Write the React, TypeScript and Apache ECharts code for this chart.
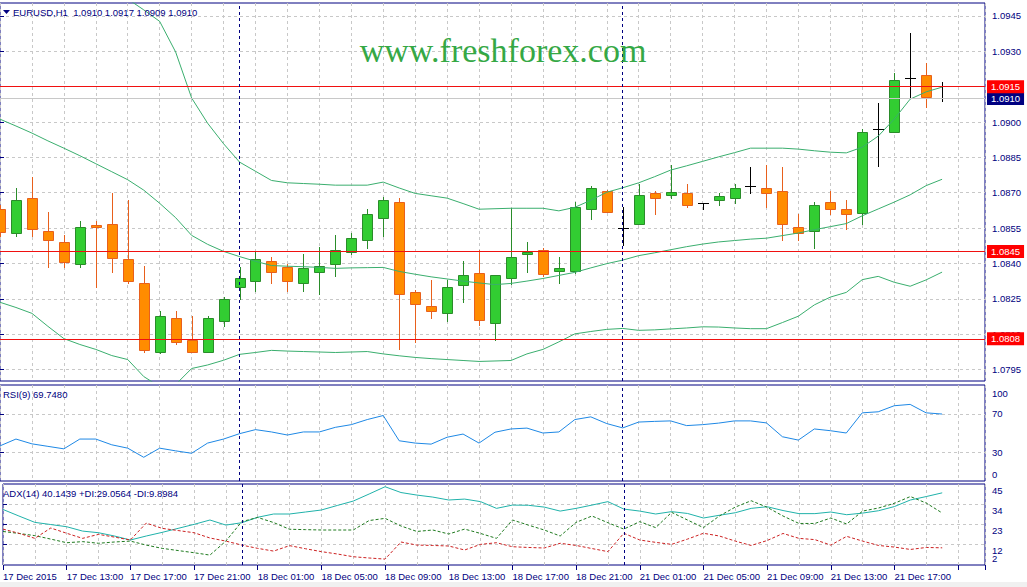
import React, { useEffect, useRef } from 'react';
import * as echarts from 'echarts';

// ---------------- data ----------------
const symbol = 'EURUSD';
const period = 'H1';
const firstTimeLabel = '17 Dec 2015';

const barTimes = [
  '17 Dec 09:00', '17 Dec 10:00', '17 Dec 11:00', '17 Dec 12:00', '17 Dec 13:00', '17 Dec 14:00', '17 Dec 15:00', '17 Dec 16:00',
  '17 Dec 17:00', '17 Dec 18:00', '17 Dec 19:00', '17 Dec 20:00', '17 Dec 21:00', '17 Dec 22:00', '17 Dec 23:00',
  '18 Dec 00:00', '18 Dec 01:00', '18 Dec 02:00', '18 Dec 03:00', '18 Dec 04:00', '18 Dec 05:00', '18 Dec 06:00', '18 Dec 07:00',
  '18 Dec 08:00', '18 Dec 09:00', '18 Dec 10:00', '18 Dec 11:00', '18 Dec 12:00', '18 Dec 13:00', '18 Dec 14:00', '18 Dec 15:00',
  '18 Dec 16:00', '18 Dec 17:00', '18 Dec 18:00', '18 Dec 19:00', '18 Dec 20:00', '18 Dec 21:00', '18 Dec 22:00', '18 Dec 23:00',
  '21 Dec 00:00', '21 Dec 01:00', '21 Dec 02:00', '21 Dec 03:00', '21 Dec 04:00', '21 Dec 05:00', '21 Dec 06:00', '21 Dec 07:00',
  '21 Dec 08:00', '21 Dec 09:00', '21 Dec 10:00', '21 Dec 11:00', '21 Dec 12:00', '21 Dec 13:00', '21 Dec 14:00', '21 Dec 15:00',
  '21 Dec 16:00', '21 Dec 17:00', '21 Dec 18:00', '21 Dec 19:00', '21 Dec 20:00',
];
const daySeparators = ['18 Dec 00:00', '21 Dec 00:00'];

const opens = [
  1.0863, 1.08528, 1.08677, 1.08536, 1.0849, 1.08396, 1.08565, 1.08566, 1.08417, 1.08315,
  1.08022, 1.08167, 1.08077, 1.08026, 1.08154, 1.08298, 1.08324, 1.08409, 1.08383, 1.08315,
  1.08362, 1.08396, 1.08447, 1.08498, 1.08592, 1.0866, 1.08277, 1.08218, 1.08188, 1.08307,
  1.08358, 1.08145, 1.08337, 1.08439, 1.08456, 1.08366, 1.08366, 1.0863, 1.08706, 1.08549,
  1.08566, 1.08698, 1.08689, 1.08698, 1.08655, 1.08668, 1.08677, 1.08728, 1.08719, 1.08706,
  1.08553, 1.08536, 1.0866, 1.0863, 1.08613, 1.0897, 1.08957, 1.09187, 1.09199, 1.091,
];
const highs = [
  1.08647, 1.08719, 1.08766, 1.08617, 1.08519, 1.08579, 1.08579, 1.08698, 1.08668, 1.08388,
  1.08196, 1.08196, 1.08175, 1.08175, 1.08256, 1.08383, 1.08447, 1.08426, 1.08396, 1.08439,
  1.08468, 1.08519, 1.08528, 1.0863, 1.08681, 1.08677, 1.08286, 1.08328, 1.08328, 1.08409,
  1.08456, 1.08349, 1.08634, 1.0849, 1.08464, 1.08426, 1.0866, 1.08728, 1.08711, 1.08638,
  1.08736, 1.08706, 1.08817, 1.08736, 1.08655, 1.08698, 1.08736, 1.08808, 1.08817, 1.08808,
  1.08609, 1.0866, 1.08706, 1.08668, 1.0897, 1.0908, 1.09208, 1.09378, 1.0925, 1.0917,
];
const lows = [
  1.08515, 1.08515, 1.08515, 1.08383, 1.08383, 1.08383, 1.08298, 1.08362, 1.08315, 1.08022,
  1.08018, 1.08056, 1.08022, 1.08022, 1.08133, 1.08247, 1.08281, 1.08315, 1.08281, 1.08281,
  1.08269, 1.08345, 1.08439, 1.08464, 1.08515, 1.08035, 1.08065, 1.08167, 1.08154, 1.08235,
  1.08137, 1.08077, 1.08311, 1.08362, 1.08345, 1.08315, 1.08358, 1.08587, 1.08617, 1.08477,
  1.08566, 1.08609, 1.08677, 1.08638, 1.0863, 1.08647, 1.08655, 1.08698, 1.08638, 1.08498,
  1.08498, 1.08464, 1.08609, 1.08545, 1.08566, 1.08813, 1.08957, 1.09106, 1.09063, 1.0909,
];
const closes = [
  1.08532, 1.08668, 1.08545, 1.08498, 1.08405, 1.08553, 1.08555, 1.08422, 1.08324, 1.08031,
  1.08175, 1.08065, 1.08022, 1.08167, 1.08247, 1.08337, 1.08417, 1.08362, 1.08324, 1.08379,
  1.08388, 1.08456, 1.08507, 1.08609, 1.08668, 1.08269, 1.08226, 1.08196, 1.08298, 1.08349,
  1.08158, 1.08349, 1.08426, 1.08447, 1.08354, 1.08379, 1.08638, 1.08719, 1.08617, 1.08549,
  1.08689, 1.08677, 1.08702, 1.08647, 1.08655, 1.08685, 1.08719, 1.08728, 1.08698, 1.08566,
  1.08528, 1.08647, 1.0863, 1.08609, 1.08957, 1.0897, 1.09178, 1.09187, 1.09106, 1.091,
];

const bbUpper = [
  1.0979, 1.09752, 1.09718, 1.09709, 1.09697, 1.09658, 1.09612, 1.09569, 1.09522, 1.09476,
  1.09427, 1.09297, 1.09102, 1.08995, 1.08908, 1.0883, 1.08791, 1.08752, 1.08742, 1.08739,
  1.08736, 1.08732, 1.08732, 1.08732, 1.08745, 1.0872, 1.08697, 1.08687, 1.08677, 1.08654,
  1.0863, 1.08632, 1.08634, 1.08634, 1.08634, 1.08623, 1.08638, 1.08668, 1.08702, 1.08721,
  1.08742, 1.08768, 1.08796, 1.08814, 1.08833, 1.08852, 1.0887, 1.08889, 1.08889, 1.08889,
  1.08885, 1.08878, 1.08872, 1.08869, 1.08893, 1.0894, 1.09012, 1.09097, 1.09128, 1.09148,
];
const bbMiddle = [
  1.09012, 1.08983, 1.08953, 1.0892, 1.08889, 1.08857, 1.08823, 1.08789, 1.08755, 1.08711,
  1.08655, 1.08594, 1.08519, 1.08481, 1.08451, 1.08429, 1.08409, 1.08391, 1.08388, 1.08386,
  1.08383, 1.08379, 1.08381, 1.08382, 1.08383, 1.08366, 1.08354, 1.08343, 1.08334, 1.08325,
  1.08317, 1.0831, 1.08315, 1.08325, 1.08336, 1.08349, 1.08362, 1.08381, 1.08399, 1.08414,
  1.08433, 1.08445, 1.08458, 1.08471, 1.08482, 1.08491, 1.08497, 1.08503, 1.08507, 1.08518,
  1.08529, 1.08543, 1.08556, 1.08569, 1.08602, 1.08631, 1.0866, 1.08691, 1.0873, 1.08757,
];
const bbLower = [
  1.08235, 1.08213, 1.08188, 1.08133, 1.08081, 1.08056, 1.08035, 1.08009, 1.07992, 1.0792,
  1.07877, 1.07886, 1.07954, 1.07969, 1.07989, 1.08014, 1.08022, 1.08031, 1.08028, 1.08026,
  1.08024, 1.08022, 1.08024, 1.08026, 1.08016, 1.08008, 1.08001, 1.07996, 1.07992, 1.07988,
  1.07984, 1.07986, 1.07988, 1.08016, 1.08035, 1.08067, 1.08101, 1.08111, 1.0812, 1.08124,
  1.08116, 1.08118, 1.08122, 1.08126, 1.08131, 1.0813, 1.08126, 1.08123, 1.08123, 1.08149,
  1.08176, 1.08224, 1.08257, 1.08277, 1.08331, 1.08345, 1.0832, 1.08303, 1.0833, 1.08363,
];

const rsi = [
  36.6, 43.7, 38.7, 36.1, 33.5, 43.7, 43.7, 37.7, 34.2, 24.7,
  34.2, 31.4, 28.9, 39.5, 43.7, 49.3, 53.5, 51.1, 47.9, 51.1,
  51.1, 55.9, 58.7, 64.0, 68.2, 41.9, 39.5, 38.4, 45.6, 48.9,
  39.5, 50.8, 54.2, 55.1, 50.0, 51.1, 64.0, 66.8, 59.8, 55.3,
  61.4, 62.1, 62.6, 57.7, 58.7, 60.3, 62.6, 62.6, 60.5, 46.1,
  42.6, 54.2, 52.4, 50.0, 71.0, 72.1, 78.4, 79.8, 71.0, 69.748,
];
const adx = [
  31.0, 27.4, 23.9, 22.7, 21.5, 19.1, 18.2, 16.4, 14.2, 16.4,
  18.4, 20.6, 22.8, 25.2, 22.4, 23.7, 26.7, 28.5, 28.5, 29.6,
  30.7, 33.2, 35.6, 39.5, 43.5, 40.3, 38.9, 37.8, 36.2, 36.7,
  35.3, 31.6, 33.4, 33.3, 32.3, 30.1, 31.6, 33.4, 35.3, 31.2,
  30.1, 28.5, 29.8, 28.8, 26.3, 27.8, 29.2, 31.6, 32.5, 30.4,
  28.7, 28.7, 29.6, 28.1, 29.0, 30.3, 32.6, 36.2, 38.1, 40.1439,
];
const plusDI = [
  18.9, 17.8, 16.6, 14.7, 12.7, 13.3, 12.4, 13.1, 13.6, 11.4,
  9.6, 8.4, 7.2, 5.9, 13.6, 24.3, 26.6, 23.8, 20.1, 19.9,
  19.7, 19.7, 19.7, 24.9, 26.1, 21.9, 18.9, 19.7, 17.5, 20.2,
  17.8, 15.1, 25.2, 22.4, 19.7, 16.4, 23.9, 27.4, 23.7, 20.2,
  24.3, 21.0, 29.4, 25.2, 21.0, 27.4, 32.3, 35.8, 32.2, 27.4,
  23.3, 23.3, 26.3, 23.0, 30.1, 31.8, 34.4, 38.1, 34.5, 29.0564,
];
const minusDI = [
  20.2, 17.9, 15.1, 20.8, 17.9, 15.1, 17.3, 15.8, 14.2, 23.5,
  20.6, 19.4, 18.2, 15.3, 13.6, 11.4, 9.6, 8.1, 11.1, 9.4,
  7.8, 6.5, 5.0, 4.3, 3.7, 13.1, 11.4, 11.2, 10.9, 8.7,
  11.8, 12.7, 10.5, 10.1, 9.8, 12.4, 11.2, 9.5, 7.8, 17.9,
  14.2, 12.9, 11.8, 14.7, 17.9, 16.4, 13.6, 11.2, 13.9, 17.8,
  15.1, 14.4, 11.4, 16.2, 13.6, 11.2, 10.3, 9.0, 10.1, 9.8984,
];

const priceTicks = [1.0795, 1.081, 1.0825, 1.084, 1.0855, 1.087, 1.0885, 1.09, 1.0915, 1.093, 1.0945];
const rsiTicks = [0, 30, 70, 100];
const rsiGridTicks = [30, 70];
const adxTicks = [12, 23, 34, 45];
const adxMinTick = [2];
const adxGridTicks = [12, 23, 34];
const levelLines = [1.0915, 1.0845, 1.0808];

// ---------------- style ----------------
const NAVY = '#000080';
const GRID = '#C8C8C8';
const FONT = '"Liberation Sans", Arial, sans-serif';
const FS = 9.5;
const BULL_FILL = '#32CD32';
const BULL_EDGE = '#2A8C2A';
const BEAR_FILL = '#FF8C00';
const BEAR_EDGE = '#E8601C';
const BB_COLOR = '#3AAE6E';
const LEVEL_RED = '#F01010';
const X_MAX = 61.6875;

const fmt4 = (v: number) => v.toFixed(4);

export default function App() {
  const ref = useRef<HTMLDivElement>(null);

  useEffect(() => {
    if (!ref.current) return;
    const chart = echarts.init(ref.current, undefined, { renderer: 'svg' });
    const n = barTimes.length;
    const last = n - 1;
    const sepIdx = daySeparators.map((t) => barTimes.indexOf(t));
    const candleData = barTimes.map((_, k) => [k, opens[k], highs[k], lows[k], closes[k]]);
    const pairs = (arr: number[]) => arr.map((v, k) => [k, v]);

    const sepLines = sepIdx.map((k) => ({
      xAxis: k,
      lineStyle: { color: NAVY, type: [3, 3], width: 1 },
      label: { show: false },
    }));

    const boxLabel = (text: string, bg: string) => ({
      show: true,
      position: 'end',
      distance: 2,
      formatter: text,
      backgroundColor: bg,
      color: '#FFFFFF',
      padding: [2, 4, 1, 4],
      fontSize: FS,
      fontFamily: FONT,
    });

    const xAxisBase = (gridIndex: number, labels: boolean) => ({
      type: 'value',
      gridIndex,
      min: 0,
      max: X_MAX,
      interval: 4,
      axisLine: { show: false },
      axisTick: labels ? { show: true, length: 5, lineStyle: { color: NAVY } } : { show: false },
      axisLabel: labels
        ? {
            show: true,
            align: 'left',
            margin: 6,
            color: NAVY,
            fontSize: FS,
            fontFamily: FONT,
            formatter: (v: number) => {
              const k = Math.round(v);
              if (Math.abs(v - k) > 1e-6 || k % 4 !== 0 || k >= n) return '';
              return k === 0 ? firstTimeLabel : barTimes[k];
            },
          }
        : { show: false },
      splitLine: { show: true, lineStyle: { color: GRID, type: [3, 3], width: 1 } },
      minorTick: { show: false, splitNumber: 2 },
      minorSplitLine: { show: true, lineStyle: { color: GRID, type: [3, 3], width: 1 } },
    });

    const labelFont = { color: NAVY, fontSize: FS, fontFamily: FONT };

    const candleItem = (params: any, api: any) => {
      const k = api.value(0);
      const o = api.value(1);
      const h = api.value(2);
      const l = api.value(3);
      const c = api.value(4);
      const po = api.coord([k, o]);
      const yc = api.coord([k, c])[1];
      const yh = api.coord([k, h])[1];
      const yl = api.coord([k, l])[1];
      const x = Math.round(po[0]);
      const yo = po[1];
      const children: any[] = [];
      if (o === c) {
        const y = Math.round(yo) + 0.5;
        children.push({ type: 'line', shape: { x1: x + 0.5, y1: Math.round(yh), x2: x + 0.5, y2: Math.round(yl) + 1 }, style: { stroke: '#000000', lineWidth: 1 } });
        children.push({ type: 'line', shape: { x1: x - 5, y1: y, x2: x + 6, y2: y }, style: { stroke: '#000000', lineWidth: 1 } });
      } else {
        const bull = c > o;
        const stroke = bull ? BULL_EDGE : BEAR_EDGE;
        const fill = bull ? BULL_FILL : BEAR_FILL;
        const top = Math.round(Math.min(yo, yc));
        const bot = Math.round(Math.max(yo, yc));
        children.push({ type: 'line', shape: { x1: x + 0.5, y1: Math.round(yh), x2: x + 0.5, y2: Math.round(yl) + 1 }, style: { stroke, lineWidth: 1 } });
        children.push({ type: 'rect', shape: { x: x - 4.5, y: top + 0.5, width: 10, height: Math.max(bot - top, 1) }, style: { fill, stroke, lineWidth: 1 } });
      }
      return { type: 'group', children };
    };

    const mainHeader = `${symbol},${period}  ${fmt4(opens[last])} ${fmt4(highs[last])} ${fmt4(lows[last])} ${fmt4(closes[last])}`;
    const rsiHeader = `RSI(9) ${rsi[last].toFixed(4)}`;
    const adxHeader = `ADX(14) ${adx[last].toFixed(4)} +DI:${plusDI[last].toFixed(4)} -DI:${minusDI[last].toFixed(4)}`;

    const option: any = {
      animation: false,
      backgroundColor: '#FFFFFF',
      grid: [
        { left: -2, top: 3, width: 987, height: 378, show: true, borderColor: NAVY, borderWidth: 1, backgroundColor: 'transparent' },
        { left: -2, top: 385, width: 987, height: 96, show: true, borderColor: NAVY, borderWidth: 1, backgroundColor: 'transparent' },
        { left: -2, top: 484, width: 987, height: 81, show: true, borderColor: NAVY, borderWidth: 1, backgroundColor: 'transparent' },
      ],
      xAxis: [xAxisBase(0, false), xAxisBase(1, false), xAxisBase(2, true)],
      yAxis: [
        {
          type: 'value',
          gridIndex: 0,
          position: 'right',
          min: 1.07901,
          max: 1.09505,
          axisLine: { show: false },
          axisTick: { show: true, length: 4, customValues: priceTicks, lineStyle: { color: NAVY } },
          axisLabel: { ...labelFont, margin: 7, showMinLabel: true, showMaxLabel: true, customValues: priceTicks, formatter: (v: number) => fmt4(v) },
          splitLine: { show: true, lineStyle: { color: GRID, type: [3, 3] } },
        },
        {
          type: 'value',
          gridIndex: 1,
          position: 'right',
          min: 0,
          max: 100,
          axisLine: { show: false },
          axisTick: { show: true, length: 4, customValues: rsiGridTicks, lineStyle: { color: NAVY } },
          axisLabel: {
            ...labelFont,
            margin: 7,
            showMinLabel: true,
            showMaxLabel: true,
            customValues: rsiTicks,
            formatter: (v: number) => (v === 100 ? `{dn|${v}}` : v === 0 ? `{up|${v}}` : `${v}`),
            rich: {
              dn: { ...labelFont, padding: [16, 0, 0, 0] },
              up: { ...labelFont, padding: [0, 0, 14, 0] },
            },
          },
          splitLine: { show: true, lineStyle: { color: GRID, type: [3, 3] } },
        },
        {
          type: 'value',
          gridIndex: 2,
          position: 'right',
          min: 0.45,
          max: 45,
          axisLine: { show: false },
          axisTick: { show: true, length: 4, customValues: adxGridTicks, lineStyle: { color: NAVY } },
          axisLabel: {
            ...labelFont,
            margin: 7,
            showMinLabel: true,
            showMaxLabel: true,
            customValues: adxTicks,
            formatter: (v: number) => `{dn|${v}}`,
            rich: { dn: { ...labelFont, padding: [13, 0, 0, 0] } },
          },
          splitLine: { show: true, lineStyle: { color: GRID, type: [3, 3] } },
        },
        {
          type: 'value',
          gridIndex: 2,
          position: 'right',
          min: 0.45,
          max: 45,
          axisLine: { show: false },
          axisTick: { show: false },
          axisLabel: {
            ...labelFont,
            margin: 7,
            showMinLabel: true,
            customValues: adxMinTick,
            formatter: (v: number) => `{up|${v}}`,
            rich: { up: { ...labelFont, padding: [0, 0, 8, 0] } },
          },
          splitLine: { show: false },
        },
      ],
      series: [
        {
          type: 'custom',
          xAxisIndex: 0,
          yAxisIndex: 0,
          clip: true,
          renderItem: candleItem,
          encode: { x: 0, y: [1, 2, 3, 4] },
          data: candleData,
          z: 2,
        },
        {
          type: 'line',
          xAxisIndex: 0,
          yAxisIndex: 0,
          data: pairs(bbUpper),
          symbol: 'none',
          lineStyle: { color: BB_COLOR, width: 1 },
          z: 3,
        },
        {
          type: 'line',
          xAxisIndex: 0,
          yAxisIndex: 0,
          data: pairs(bbLower),
          symbol: 'none',
          lineStyle: { color: BB_COLOR, width: 1 },
          z: 3,
        },
        {
          type: 'line',
          xAxisIndex: 0,
          yAxisIndex: 0,
          data: pairs(bbMiddle),
          symbol: 'none',
          lineStyle: { color: BB_COLOR, width: 1 },
          z: 3,
          markLine: {
            silent: true,
            symbol: ['none', 'none'],
            animation: false,
            precision: 5,
            data: [
              {
                yAxis: closes[last],
                lineStyle: { color: '#C8C8C8', type: 'solid', width: 1 },
                label: boxLabel(fmt4(closes[last]), NAVY),
              },
              ...levelLines.map((v) => ({
                yAxis: v,
                lineStyle: { color: LEVEL_RED, type: 'solid', width: 1, opacity: 1 },
                label: boxLabel(fmt4(v), '#FF0000'),
              })),
              ...sepLines,
            ],
          },
        },
        {
          type: 'line',
          xAxisIndex: 1,
          yAxisIndex: 1,
          data: pairs(rsi),
          symbol: 'none',
          lineStyle: { color: '#1E88E5', width: 1 },
          markLine: { silent: true, symbol: ['none', 'none'], animation: false, precision: 5, data: sepLines },
        },
        {
          type: 'line',
          xAxisIndex: 2,
          yAxisIndex: 2,
          data: pairs(adx),
          symbol: 'none',
          lineStyle: { color: '#20B2AA', width: 1 },
          markLine: { silent: true, symbol: ['none', 'none'], animation: false, precision: 5, data: sepLines },
        },
        {
          type: 'line',
          xAxisIndex: 2,
          yAxisIndex: 2,
          data: pairs(plusDI),
          symbol: 'none',
          lineStyle: { color: '#1F7A1F', width: 1, type: [3, 2] },
        },
        {
          type: 'line',
          xAxisIndex: 2,
          yAxisIndex: 2,
          data: pairs(minusDI),
          symbol: 'none',
          lineStyle: { color: '#CC2222', width: 1, type: [3, 2] },
        },
      ],
      graphic: [
        { type: 'polygon', z: 100, shape: { points: [[3, 10], [10, 10], [6.5, 14]] }, style: { fill: NAVY } },
        { type: 'text', z: 100, x: 13, y: 12, style: { text: mainHeader, fill: NAVY, fontSize: FS, fontFamily: FONT, verticalAlign: 'middle' } },
        { type: 'text', z: 100, x: 3, y: 394, style: { text: rsiHeader, fill: NAVY, fontSize: FS, fontFamily: FONT, verticalAlign: 'middle' } },
        { type: 'text', z: 100, x: 3, y: 493, style: { text: adxHeader, fill: NAVY, fontSize: FS, fontFamily: FONT, verticalAlign: 'middle' } },
        {
          type: 'text',
          z: 100,
          x: 503,
          y: 50,
          style: { text: 'www.freshforex.com', fill: '#35A845', fontSize: 34, fontFamily: '"Liberation Serif", "DejaVu Serif", serif', align: 'center', verticalAlign: 'middle' },
        },
        { type: 'rect', z: 100, shape: { x: 0, y: 582, width: 1027, height: 5 }, style: { fill: '#F0F0F0' } },
      ],
    };

    chart.setOption(option);
    return () => chart.dispose();
  }, []);

  return <div ref={ref} style={{ position: 'fixed', left: 0, top: 0, width: 1027, height: 587 }} />;
}
